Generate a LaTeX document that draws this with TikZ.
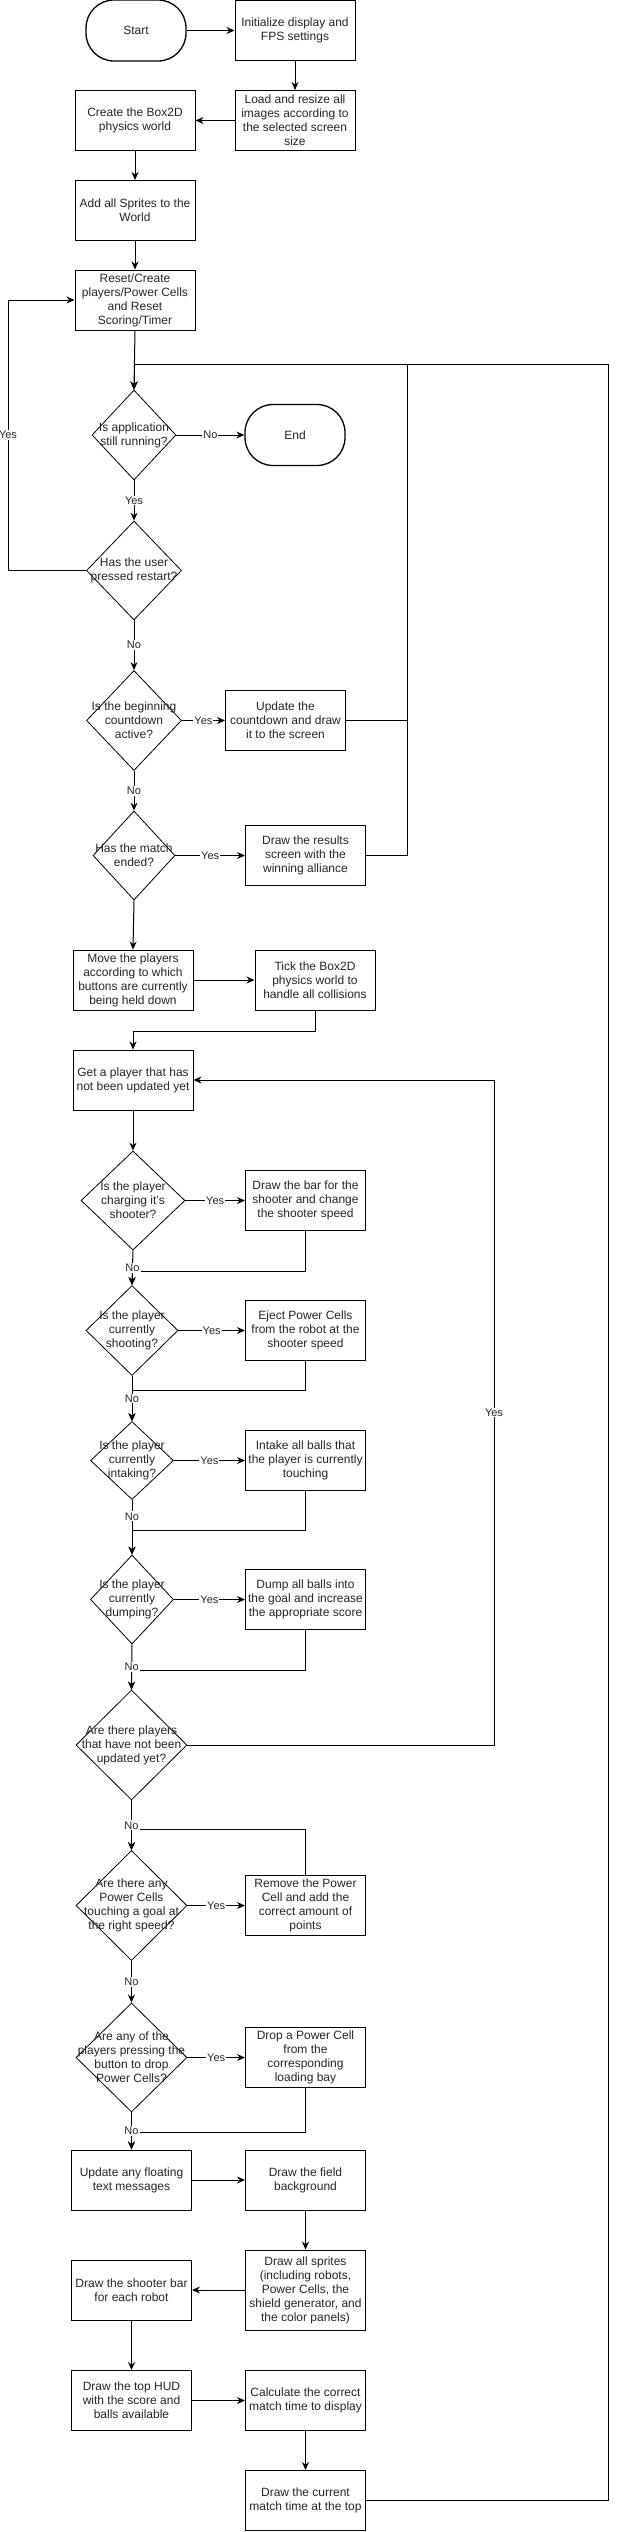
\documentclass[tikz,border=0pt]{standalone}
\usepackage{fontspec}
\setmainfont{Liberation Sans}
\usetikzlibrary{shapes.geometric,arrows.meta,calc}
\begin{document}
\begin{tikzpicture}[x=1pt,y=-1pt,
  every node/.style={font=\fontsize{12}{14}\selectfont, text=black!85},
  box/.style={draw=black, line width=1pt, minimum width=120pt, minimum height=60pt, inner sep=1pt, align=center},
  term/.style={draw=black, line width=1.3pt, rounded corners=28pt, minimum width=100pt, minimum height=61pt, align=center},
  dia/.style={draw=black, diamond, line width=0.8pt, inner sep=0pt},
  dtxt/.style={align=center, inner sep=0pt},
  arr/.style={draw=black, line width=1pt, -{Stealth[length=8pt,width=7pt]}},
  lbl/.style={fill=white, inner sep=1pt, font=\fontsize{11}{12}\selectfont},
]
\fill[white] (0,0) rectangle (623,2532);
\useasboundingbox (0,0) rectangle (623,2532);

% nodes
\node[term] (start) at (136,30.5) {Start};
\node[box] (init) at (295,30.5) {Initialize display and\\FPS settings};
\node[box] (load) at (295,120.5) {Load and resize all\\images according to\\the selected screen\\size};
\node[box] (create) at (135,120.5) {Create the Box2D\\physics world};
\node[box] (add) at (135,210.5) {Add all Sprites to the\\World};
\node[box] (reset) at (135,300) {Reset/Create\\players/Power Cells\\and Reset\\Scoring/Timer};
\node[dia, minimum width=84pt, minimum height=90pt, label={[dtxt]center:{Is application\\still running?}}] (d1) at (134,435) {};
\node[term] (end) at (295,435) {End};
\node[dia, minimum width=95pt, minimum height=99pt, label={[dtxt]center:{Has the user\\pressed restart?}}] (d2) at (134,570.5) {};
\node[dia, minimum width=95pt, minimum height=100pt, label={[dtxt]center:{Is the beginning\\countdown\\active?}}] (d3) at (134,720.5) {};
\node[box] (upd) at (285.5,720.5) {Update the\\countdown and draw\\it to the screen};
\node[dia, minimum width=82pt, minimum height=89pt, label={[dtxt]center:{Has the match\\ended?}}] (d4) at (134,855.5) {};
\node[box] (res) at (305.5,855.5) {Draw the results\\screen with the\\winning alliance};
\node[box] (move) at (133,980) {Move the players\\according to which\\buttons are currently\\being held down};
\node[box] (tick) at (315,980) {Tick the Box2D\\physics world to\\handle all collisions};
\node[box] (get) at (133,1080) {Get a player that has\\not been updated yet};
\node[dia, minimum width=104pt, minimum height=99pt, label={[dtxt]center:{Is the player\\charging it's\\shooter?}}] (d5) at (133,1200.5) {};
\node[box] (bar) at (305.5,1200.5) {Draw the bar for the\\shooter and change\\the shooter speed};
\node[dia, minimum width=92pt, minimum height=90pt, label={[dtxt]center:{Is the player\\currently\\shooting?}}] (d6) at (132,1330.5) {};
\node[box] (eject) at (305.5,1330.5) {Eject Power Cells\\from the robot at the\\shooter speed};
\node[dia, minimum width=83pt, minimum height=78pt, label={[dtxt]center:{Is the player\\currently\\intaking?}}] (d7) at (132,1460.5) {};
\node[box] (intake) at (305.5,1460.5) {Intake all balls that\\the player is currently\\touching};
\node[dia, minimum width=83pt, minimum height=89pt, label={[dtxt]center:{Is the player\\currently\\dumping?}}] (d8) at (132,1599.5) {};
\node[box] (dump) at (305.5,1599.5) {Dump all balls into\\the goal and increase\\the appropriate score};
\node[dia, minimum width=111pt, minimum height=110pt, label={[dtxt]center:{Are there players\\that have not been\\updated yet?}}] (d9) at (131.5,1745) {};
\node[dia, minimum width=111pt, minimum height=110pt, label={[dtxt]center:{Are there any\\Power Cells\\touching a goal at\\the right speed?}}] (d10) at (131.5,1905.5) {};
\node[box] (rem) at (305.5,1905.5) {Remove the Power\\Cell and add the\\correct amount of\\points};
\node[dia, minimum width=111pt, minimum height=109pt, label={[dtxt]center:{Are any of the\\players pressing the\\button to drop\\Power Cells?}}] (d11) at (131.5,2057.5) {};
\node[box] (drop) at (305.5,2057.5) {Drop a Power Cell\\from the\\corresponding\\loading bay};
\node[box] (flt) at (131.5,2180) {Update any floating\\text messages};
\node[box] (fld) at (305.5,2180) {Draw the field\\background};
\node[box, minimum height=80pt] (spr) at (305.5,2290) {Draw all sprites\\(including robots,\\Power Cells, the\\shield generator, and\\the color panels)};
\node[box] (sh) at (131.5,2290) {Draw the shooter bar\\for each robot};
\node[box] (hud) at (131.5,2400.5) {Draw the top HUD\\with the score and\\balls available};
\node[box] (calc) at (305.5,2400.5) {Calculate the correct\\match time to display};
\node[box] (cur) at (305.5,2500.5) {Draw the current\\match time at the top};

% helper coordinates
\coordinate (j1) at (407,364);
\coordinate (j2) at (608,364);
\coordinate (lx) at (8,0);
\coordinate (rx) at (494,0);

% connectors
\draw[arr] (start.east) -- (init.west);
\draw[arr] (init.south) -- (load.north);
\draw[arr] (load.west) -- (create.east);
\draw[arr] (create.south) -- (add.north);
\draw[arr] (add.south) -- (reset.north);
\draw[arr] (reset.south) -- (d1.north);
\draw[arr] (d1.east) -- node[lbl]{No} (end.west);
\draw[arr] (d1.south) -- node[lbl]{Yes} (d2.north);
\draw[arr] (d2.west) -- (d2.west -| lx) -- node[lbl]{Yes} (reset.west -| lx) -- (reset.west);
\draw[arr] (d2.south) -- node[lbl]{No} (d3.north);
\draw[arr] (d3.east) -- node[lbl]{Yes} (upd.west);
\draw[arr] (upd.east) -| (j1) -| (d1.north);
\draw[arr] (d3.south) -- node[lbl]{No} (d4.north);
\draw[arr] (d4.east) -- node[lbl]{Yes} (res.west);
\draw[arr] (res.east) -| (j1) -| (d1.north);
\draw[arr] (cur.east) -| (j2) -| (d1.north);
\draw[arr] (d4.south) -- (move.north);
\draw[arr] (move.east) -- (tick.west);
\draw[arr] (tick.south) -- ++(0,21) -| (get.north);
\draw[arr] (get.south) -- (d5.north);
\draw[arr] (d5.east) -- node[lbl]{Yes} (bar.west);
\draw[arr] (bar.south) -- ++(0,40) -| (d6.north);
\draw[arr] (d5.south) -- node[lbl]{No} (d6.north);
\draw[arr] (d6.east) -- node[lbl]{Yes} (eject.west);
\draw[arr] (eject.south) -- ++(0,29) -| (d7.north);
\draw[arr] (d6.south) -- node[lbl]{No} (d7.north);
\draw[arr] (d7.east) -- node[lbl]{Yes} (intake.west);
\draw[arr] (intake.south) -- ++(0,39) -| (d8.north);
\draw[arr] (d7.south) -- node[lbl,pos=0.3]{No} (d8.north);
\draw[arr] (d8.east) -- node[lbl]{Yes} (dump.west);
\draw[arr] (dump.south) -- ++(0,40) -| (d9.north);
\draw[arr] (d8.south) -- node[lbl]{No} (d9.north);
\draw[arr] (d9.east) -| node[lbl,pos=0.75]{Yes} (rx |- get.east) -- (get.east);
\draw[arr] (rem.north) -- ++(0,-46) -| (d10.north);
\draw[arr] (d9.south) -- node[lbl]{No} (d10.north);
\draw[arr] (d10.east) -- node[lbl]{Yes} (rem.west);
\draw[arr] (d10.south) -- node[lbl]{No} (d11.north);
\draw[arr] (d11.east) -- node[lbl]{Yes} (drop.west);
\draw[arr] (drop.south) -- ++(0,44) -| (flt.north);
\draw[arr] (d11.south) -- node[lbl]{No} (flt.north);
\draw[arr] (flt.east) -- (fld.west);
\draw[arr] (fld.south) -- (spr.north);
\draw[arr] (spr.west) -- (sh.east);
\draw[arr] (sh.south) -- (hud.north);
\draw[arr] (hud.east) -- (calc.west);
\draw[arr] (calc.south) -- (cur.north);
\end{tikzpicture}
\end{document}
